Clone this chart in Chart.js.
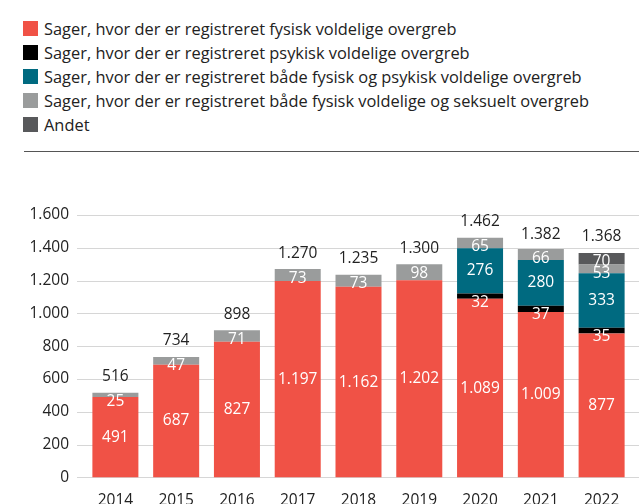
<!DOCTYPE html>
<html>
<head>
<meta charset="utf-8">
<script src="https://cdn.jsdelivr.net/npm/chart.js@4"></script>
<style>
  html, body { margin: 0; background: #fff; font-family: "Open Sans", sans-serif; overflow: hidden; }
  #legend { position: absolute; left: 23px; top: 16px; }
  .item { display: flex; align-items: center; height: 24px; font-size: 16.4px; color: #222; }
  .box { width: 15px; height: 15px; margin-right: 6px; }
  #sep { position: absolute; left: 24px; right: 0; top: 151px; border-top: 1.5px solid #555; }
  #wrap { position: absolute; left: 0; top: 192px; width: 639px; height: 324px; }
</style>
</head>
<body>
<div id="legend"></div>
<div id="sep"></div>
<div id="wrap"><canvas id="chart"></canvas></div>
<script>
const years = ['2014', '2015', '2016', '2017', '2018', '2019', '2020', '2021', '2022'];
const fysisk = [491, 687, 827, 1197, 1162, 1202, 1089, 1009, 877];
const psykisk = [0, 0, 0, 0, 0, 0, 32, 37, 35];
const fysiskPsykisk = [0, 0, 0, 0, 0, 0, 276, 280, 333];
const fysiskSeksuelt = [25, 47, 71, 73, 73, 98, 65, 66, 53];
const andet = [0, 0, 0, 0, 0, 0, 0, 0, 70];
const totals = [516, 734, 898, 1270, 1235, 1300, 1462, 1382, 1368];

const seriesNames = [
  'Sager, hvor der er registreret fysisk voldelige overgreb',
  'Sager, hvor der er registreret psykisk voldelige overgreb',
  'Sager, hvor der er registreret både fysisk og psykisk voldelige overgreb',
  'Sager, hvor der er registreret både fysisk voldelige og seksuelt overgreb',
  'Andet'
];
const seriesData = [fysisk, psykisk, fysiskPsykisk, fysiskSeksuelt, andet];
const seriesColors = ['#f05246', '#000000', '#006a80', '#9a9c9c', '#58595b'];

const fmt = v => String(v).replace(/\B(?=(\d{3})+(?!\d))/g, '.');

// html legend
const legend = document.getElementById('legend');
seriesNames.forEach((name, i) => {
  const row = document.createElement('div');
  row.className = 'item';
  row.innerHTML = '<span class="box" style="background:' + seriesColors[i] + '"></span>' + name;
  legend.appendChild(row);
});

const gridAndLabels = {
  id: 'gridAndLabels',
  beforeDatasetsDraw(chart) {
    const { ctx, scales: { y }, chartArea } = chart;
    ctx.save();
    ctx.strokeStyle = '#d6d6d6';
    ctx.lineWidth = 1;
    y.ticks.forEach(t => {
      const py = Math.round(y.getPixelForValue(t.value)) + 0.5;
      ctx.beginPath();
      ctx.moveTo(chartArea.left - 8, py);
      ctx.lineTo(chart.width, py);
      ctx.stroke();
    });
    ctx.restore();
  },
  afterDatasetsDraw(chart) {
    const { ctx } = chart;
    ctx.save();
    ctx.font = '15.5px "Open Sans"';
    ctx.textAlign = 'center';
    ctx.textBaseline = 'middle';
    chart.data.datasets.forEach((ds, di) => {
      const meta = chart.getDatasetMeta(di);
      meta.data.forEach((bar, i) => {
        const v = ds.data[i];
        if (!v) return;
        const top = Math.min(bar.y, bar.base);
        const mid = (bar.y + bar.base) / 2;
        ctx.fillStyle = '#ffffff';
        ctx.fillText(fmt(v), bar.x, Math.max(mid, top + 9));
      });
    });
    const first = chart.getDatasetMeta(0);
    ctx.fillStyle = '#222';
    first.data.forEach((bar, i) => {
      const y = chart.scales.y.getPixelForValue(totals[i]);
      ctx.fillText(fmt(totals[i]), bar.x, y - 16);
    });
    ctx.restore();
  }
};

new Chart(document.getElementById('chart'), {
  type: 'bar',
  data: {
    labels: years,
    datasets: seriesNames.map((name, i) => ({
      label: name,
      data: seriesData[i],
      backgroundColor: seriesColors[i],
      borderWidth: 0,
      categoryPercentage: 1,
      barPercentage: 0.757
    }))
  },
  options: {
    responsive: true,
    maintainAspectRatio: false,
    animation: false,
    layout: { padding: { top: 23, right: 7, left: 0, bottom: 0 } },
    plugins: { legend: { display: false }, tooltip: { enabled: false } },
    scales: {
      x: {
        stacked: true,
        grid: { display: false },
        border: { display: false },
        ticks: { color: '#222', font: { family: 'Open Sans', size: 15.5 }, padding: 6 }
      },
      y: {
        stacked: true,
        min: 0,
        max: 1600,
        afterFit(scale) { scale.width = 85; },
        grid: { display: false },
        border: { display: false },
        ticks: {
          stepSize: 200,
          color: '#222',
          padding: 8,
          font: { family: 'Open Sans', size: 15.5 },
          callback: v => fmt(v)
        }
      }
    }
  },
  plugins: [gridAndLabels]
});
</script>
</body>
</html>
